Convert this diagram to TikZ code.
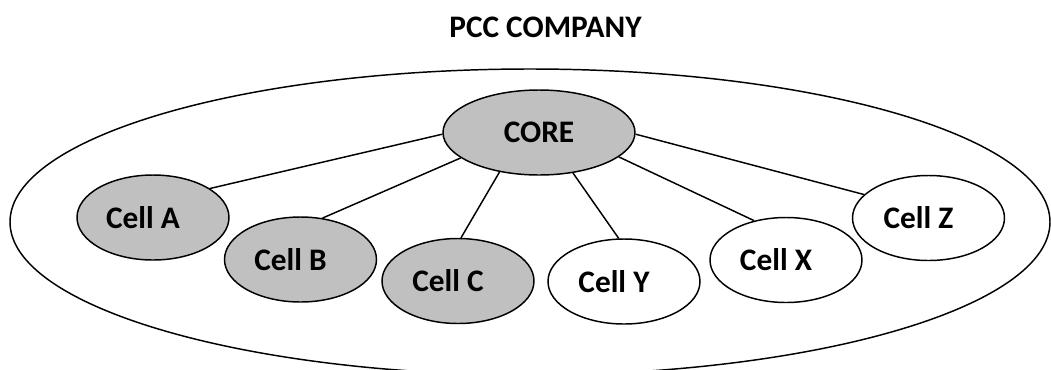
\documentclass[tikz,border=0pt]{standalone}
\usepackage{fontspec}
\setmainfont{Carlito}
\usetikzlibrary{shapes.geometric}
\definecolor{cellgray}{HTML}{C0C0C0}
\tikzset{
  every node/.style={font=\bfseries\fontsize{23.5}{28}\selectfont},
  cellbox/.style={ellipse, draw=black, line width=1.1pt, inner sep=0pt,
    minimum width=114pt, minimum height=63.75pt},
  shaded/.style={cellbox, fill=cellgray},
  plain/.style={cellbox, fill=white},
  link/.style={draw=black, line width=1.1pt},
}
\begin{document}
\begin{tikzpicture}[x=0.75pt, y=-0.75pt]
\useasboundingbox (0,0) rectangle (1051,369);
\clip (0,0) rectangle (1051,369);
\fill[white] (0,0) rectangle (1051,369);
\node[anchor=base] (title) at (545.5,37) {PCC COMPANY};
\node[ellipse, draw=black, line width=1.1pt, inner sep=0pt,
  minimum width=780pt, minimum height=229.5pt] (company) at (530,222) {};
\node[shaded, minimum width=144pt] (core) at (539,132.5) {CORE};
\node[shaded] (a) at (153,217.5) {Cell A\kern 15pt};
\node[shaded] (b) at (300.5,259.5) {Cell B\kern 15pt};
\node[shaded] (c) at (458,281) {Cell C\kern 15pt};
\node[plain] (y) at (624,281.5) {Cell Y\kern 15pt};
\node[plain] (x) at (786,260) {Cell X\kern 15pt};
\node[plain] (z) at (928.5,218) {Cell Z\kern 15pt};
\draw[link] (core.181) -- (a.27);
\draw[link] (core.198) -- (b.62);
\draw[link] (core.225) -- (c.86);
\draw[link] (core.310) -- (y.97);
\draw[link] (core.343) -- (x.129);
\draw[link] (core.359) -- (z.160);
\end{tikzpicture}
\end{document}
